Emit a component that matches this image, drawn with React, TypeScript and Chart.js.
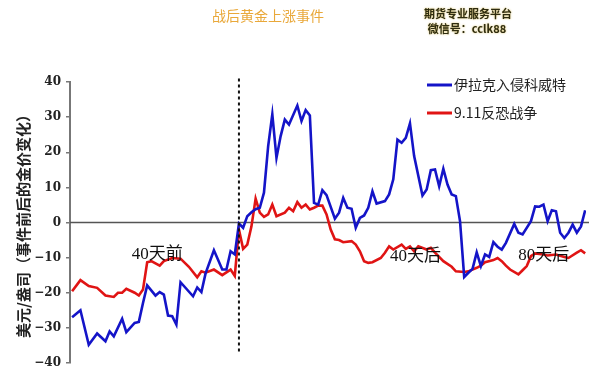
import React, { useEffect, useRef } from "react";
import { Chart, registerables } from "chart.js";

Chart.register(...registerables);

// Days relative to the event (0 = event day) and gold price change (USD/oz)
const iraqDays = [
  -40, -38, -36, -34, -32, -31, -30, -28, -27, -25, -24, -23, -22, -20, -19, -18, -17, -16, -15, -14,
  -11, -10, -9, -8, -6, -4, -3, -2, -1, 0, 1, 2, 3, 4, 5, 6, 7, 8, 9, 10,
  11, 12, 14, 15, 16, 17, 18, 19, 20, 21, 23, 24, 25, 26, 27, 28, 29, 30, 31, 32,
  33, 35, 36, 37, 38, 39, 40, 41, 42, 44, 45, 46, 47, 48, 49, 50, 51, 52, 53, 54,
  55, 56, 57, 58, 59, 60, 61, 62, 63, 64, 66, 67, 68, 70, 71, 72, 73, 74, 75, 76,
  77, 78, 79, 80, 81, 82, 83,
];
const iraqGold = [
  -27.0, -25.0, -34.8, -31.6, -33.8, -31.0, -32.4, -27.4, -31.2, -28.6, -28.3, -22.9, -17.9, -20.8, -19.8, -20.5, -26.5, -26.7, -29.1, -17.0,
  -21.0, -18.5, -19.8, -14.5, -7.9, -13.4, -13.4, -8.2, -9.1, -0.3, -1.5, 1.8, 2.9, 3.8, 4.2, 8.5, 21.7, 30.8, 18.4, 24.6,
  29.3, 27.9, 33.3, 28.9, 32.0, 30.5, 5.6, 5.1, 9.2, 7.8, 1.1, 2.8, 7.0, 4.2, 3.9, -1.5, 1.3, 2.0, 4.2, 8.9,
  5.4, 6.1, 8.0, 12.3, 23.6, 22.7, 24.1, 28.2, 18.9, 7.7, 9.4, 14.9, 15.1, 10.3, 15.3, 10.8, 8.0, 7.5, 0.4, -15.5,
  -14.3, -13.2, -8.5, -12.4, -9.1, -9.8, -5.6, -6.9, -7.7, -5.8, -0.4, -2.9, -3.4, 0.4, 4.6, 4.5, 5.1, 0.4, 3.5, 3.2,
  -2.9, -4.4, -2.9, -0.6, -2.9, -1.1, 3.5,
];

const wtcDays = [
  -40, -38, -36, -34, -32, -30, -29, -28, -27, -25, -24, -23, -22, -21, -19, -18, -16, -14, -12, -10,
  -9, -8, -6, -4, -2, -1, 0, 1, 2, 3, 4, 5, 6, 7, 8, 9, 11, 12, 13, 14,
  15, 16, 17, 18, 19, 20, 21, 22, 23, 24, 25, 27, 28, 29, 30, 31, 32, 34, 35, 36,
  37, 39, 40, 41, 42, 43, 45, 46, 47, 49, 51, 52, 54, 55, 57, 58, 59, 61, 62, 63,
  64, 65, 67, 68, 69, 70, 71, 73, 74, 76, 78, 79, 81, 82, 83,
];
const wtcGold = [
  -19.6, -16.4, -18.1, -18.6, -20.8, -21.2, -20.0, -20.0, -18.9, -20.0, -20.8, -19.1, -11.3, -11.0, -12.3, -11.0, -10.1, -10.3, -12.6, -15.6,
  -13.9, -14.3, -13.4, -15.0, -13.4, -15.2, -2.0, -7.5, -6.3, -1.1, 6.8, 2.8, 1.6, 2.3, 5.1, 1.8, 2.8, 4.2, 3.2, 5.8,
  4.2, 5.1, 3.7, 4.2, 4.8, 4.8, 2.3, -2.0, -4.8, -5.0, -5.6, -5.3, -6.3, -8.2, -11.0, -11.5, -11.3, -10.1, -8.6, -6.8,
  -7.7, -6.3, -7.5, -6.8, -8.2, -6.8, -7.7, -7.2, -8.6, -11.0, -12.6, -13.9, -14.1, -13.9, -12.9, -12.3, -11.3, -10.7, -10.1, -11.0,
  -12.3, -13.4, -14.8, -13.6, -12.4, -9.6, -8.8, -9.1, -9.4, -9.1, -9.8, -10.1, -8.6, -7.9, -8.8,
];

const seriesNames = ["伊拉克入侵科威特", "9.11反恐战争"];
const seriesColors = ["#1414C8", "#E01414"];

const yMin = -40;
const yMax = 40;
const yStep = 10;

const noteTexts = ["40天前", "40天后", "80天后"];
const noteDays = [-19.6, 42.3, 73.1];
const noteValues = [-9.1, -9.6, -9.3];

const eventDay = 0;
const chartTitle = "战后黄金上涨事件";
const brandLines = ["期货专业服务平台", "微信号：cclk88"];
const yAxisTitle = "美元/盎司（事件前后的金价变化）";

const decorPlugin = {
  id: "decor",
  beforeDatasetsDraw(chart: any) {
    const { ctx, chartArea, scales } = chart;
    const y0 = scales.y.getPixelForValue(0);
    ctx.save();
    ctx.strokeStyle = "#555";
    ctx.lineWidth = 1.5;
    ctx.beginPath();
    ctx.moveTo(chartArea.left, y0);
    ctx.lineTo(chartArea.right + 3, y0);
    ctx.stroke();
    ctx.restore();
  },
  afterDatasetsDraw(chart: any) {
    const { ctx, scales } = chart;
    const { x, y } = scales;
    ctx.save();
    // event marker
    const xp = x.getPixelForValue(eventDay);
    ctx.strokeStyle = "#111";
    ctx.lineWidth = 2;
    ctx.setLineDash([3, 3]);
    ctx.beginPath();
    ctx.moveTo(xp, y.getPixelForValue(41));
    ctx.lineTo(xp, y.getPixelForValue(-37.2));
    ctx.stroke();
    ctx.setLineDash([]);

    // notes
    ctx.font = '17px "Liberation Serif", "Noto Sans CJK SC"';
    ctx.fillStyle = "#111";
    ctx.textAlign = "center";
    ctx.textBaseline = "middle";
    noteTexts.forEach((t, i) => {
      ctx.fillText(t, x.getPixelForValue(noteDays[i]), y.getPixelForValue(noteValues[i]));
    });

    // legend
    chart.data.datasets.forEach((ds: any, i: number) => {
      const ly = 85 + i * 28;
      ctx.strokeStyle = ds.borderColor;
      ctx.lineWidth = 3;
      ctx.beginPath();
      ctx.moveTo(427, ly);
      ctx.lineTo(452, ly);
      ctx.stroke();
      ctx.fillStyle = "#222";
      ctx.textAlign = "left";
      ctx.textBaseline = "middle";
      ctx.font = '14px "Noto Sans CJK SC"';
      ctx.fillText(ds.label, 454, ly);
    });

    // title
    ctx.font = '14px "Noto Sans CJK SC"';
    ctx.fillStyle = "#E9A83A";
    ctx.textAlign = "center";
    ctx.textBaseline = "middle";
    ctx.fillText(chartTitle, 268, 16);

    // brand
    ctx.font = 'bold 11px "Noto Sans CJK SC"';
    ctx.fillStyle = "#2E2C10";
    ctx.shadowColor = "rgba(210,180,70,0.9)";
    ctx.shadowBlur = 2;
    ctx.fillText(brandLines[0], 468, 14);
    ctx.fillText(brandLines[1], 467, 29);
    ctx.restore();
  },
};

export default function App() {
  const canvasRef = useRef<HTMLCanvasElement | null>(null);

  useEffect(() => {
    if (!canvasRef.current) return;
    const chart = new Chart(canvasRef.current, {
      type: "line",
      data: {
        datasets: [
          {
            label: seriesNames[0],
            data: iraqDays.map((d, i) => ({ x: d, y: iraqGold[i] })),
            borderColor: seriesColors[0],
            borderWidth: 2.6,
            pointRadius: 0,
            tension: 0,
          },
          {
            label: seriesNames[1],
            data: wtcDays.map((d, i) => ({ x: d, y: wtcGold[i] })),
            borderColor: seriesColors[1],
            borderWidth: 2.6,
            pointRadius: 0,
            tension: 0,
          },
        ],
      },
      options: {
        animation: false,
        responsive: true,
        maintainAspectRatio: false,
        devicePixelRatio: 1,
        layout: { padding: { left: 0, right: 7, top: 82, bottom: 23 } },
        plugins: {
          legend: { display: false },
          tooltip: { enabled: false },
          title: { display: false },
        },
        scales: {
          x: {
            type: "linear",
            min: -40.5,
            max: 83.2,
            display: false,
          },
          y: {
            min: yMin,
            max: yMax,
            afterFit: (scale: any) => {
              scale.width = 70;
            },
            ticks: {
              stepSize: yStep,
              padding: 5,
              color: "#222",
              font: { family: '"DejaVu Serif"', size: 12, weight: "bold" },
              callback: (v: any) => (Number(v) < 0 ? "−" + Math.abs(Number(v)) : String(v)),
            },
            grid: {
              display: true,
              drawOnChartArea: false,
              drawTicks: true,
              tickLength: 4,
              color: "#777",
              lineWidth: 1.5,
            },
            border: { display: true, color: "#777", width: 2 },
            title: {
              display: true,
              text: yAxisTitle,
              color: "#222",
              font: { family: '"Noto Sans CJK SC"', size: 15, weight: "bold" },
              padding: { top: 14, bottom: 0 },
            },
          },
        },
      },
      plugins: [decorPlugin],
    });
    return () => chart.destroy();
  }, []);

  return (
    <div style={{ position: "absolute", left: 0, top: 0, width: 593, height: 386, background: "#fff" }}>
      <canvas ref={canvasRef} />
    </div>
  );
}
